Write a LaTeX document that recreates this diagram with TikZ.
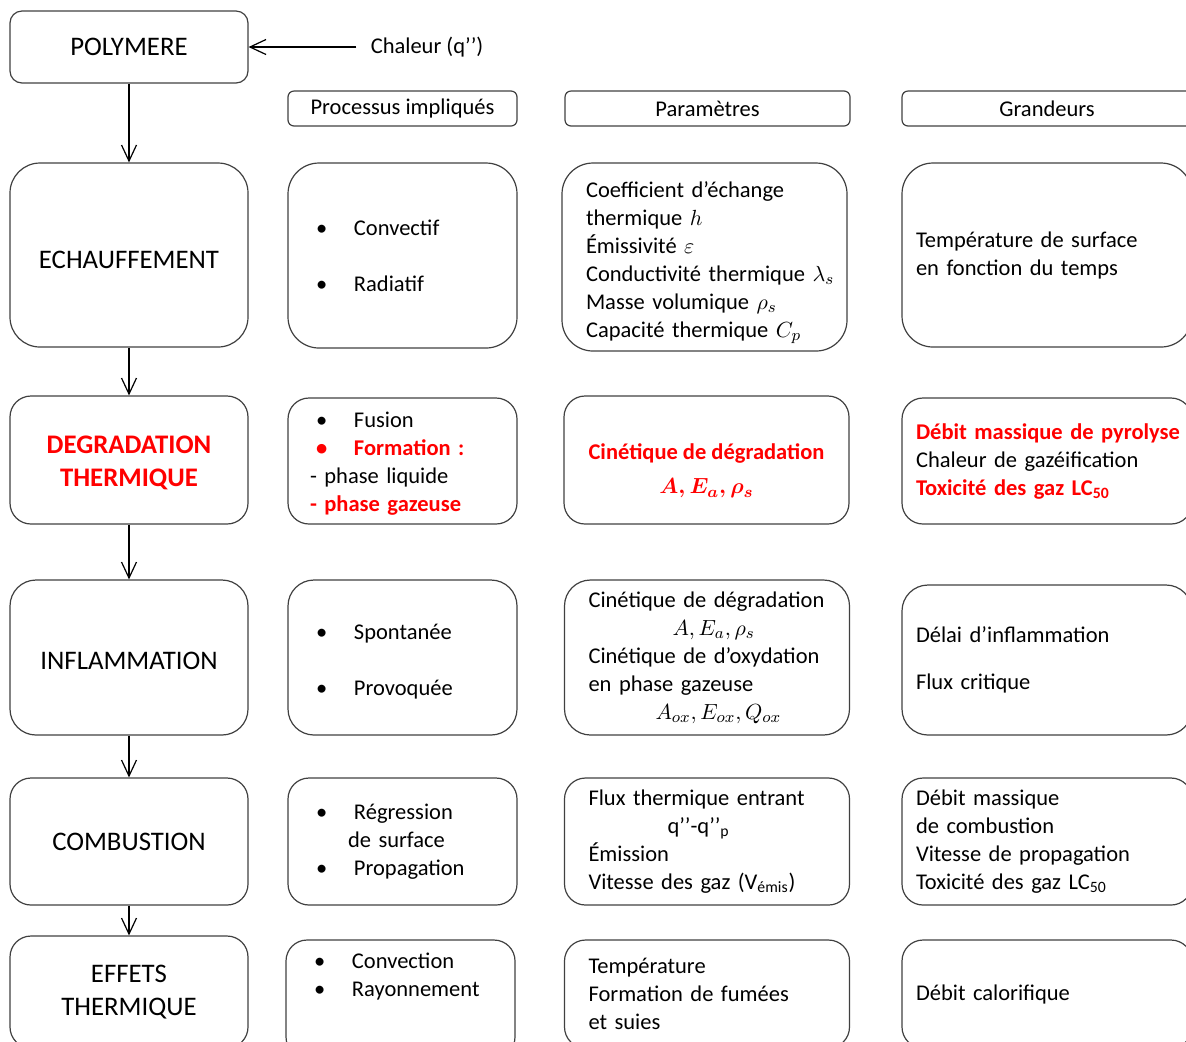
\documentclass[tikz,border=0pt]{standalone}
\usepackage{fontspec}
\setmainfont{Carlito}
\usetikzlibrary{arrows.meta}

\newcommand\puce[1]{\makebox[22pt][l]{\hspace{3pt}\textbullet}#1}
\newcommand\gros{\fontsize{13.4pt}{16.3pt}\selectfont}
\newcommand\courant{\fontsize{11.25pt}{14pt}\selectfont}
% first line made taller, so the text sits lower in its box
\newcommand\abaisse[2]{\raisebox{0pt}[\dimexpr\height+#1\relax]{#2}}

\begin{document}
\begin{tikzpicture}[x=0.5pt, y=-0.5pt, font=\courant,
    box/.style={draw=black!75, line width=0.6pt, rounded corners=#1, inner sep=0pt},
    etape/.style={box=#1, minimum width=119pt, align=center, font=\gros},
    entete/.style={box=3pt, minimum height=17.5pt},
    proc/.style={box=#1, minimum width=114.5pt, text width=92.5pt, align=left},
    parm/.style={box=#1, minimum width=142.5pt, text width=118.5pt, align=left},
    grd/.style={box=#1, minimum width=145pt, text width=131pt, align=left},
    fleche/.style={-{Straight Barb[length=8pt,width=7.5pt]}, line width=0.6pt}]

    \useasboundingbox (0,0) rectangle (1186,1041);

    % etapes
    \node[etape=6pt, minimum height=36pt] (poly) at (129,47) {POLYMERE};
    \node[etape=15pt, minimum height=92pt] (echauf) at (129,255) {\abaisse{5pt}{ECHAUFFEMENT}};
    \node[etape=10.5pt, minimum height=64pt, text=red, font=\gros\bfseries] (degrad) at (129,460) {\abaisse{3pt}{DEGRADATION}\\THERMIQUE};
    \node[etape=13pt, minimum height=77.5pt] (inflam) at (129,657.5) {\abaisse{3pt}{INFLAMMATION}};
    \node[etape=10.5pt, minimum height=63.5pt] (combu) at (129,841.5) {COMBUSTION};
    \node[etape=10.5pt, minimum height=56pt] (effets) at (129,992) {EFFETS\\THERMIQUE};

    \node[inner xsep=7pt] (chaleur) at (427,47) {Chaleur (q’’)};

    % en-tetes
    \node[entete, minimum width=114.5pt] (hproc) at (402.5,108.5) {Processus impliqués};
    \node[entete, minimum width=142.5pt] (hparm) at (707.5,108.5) {Paramètres};
    \node[entete, minimum width=145pt] (hgrd) at (1047,108.5) {Grandeurs};

    % processus
    \node[proc=15.5pt, minimum height=92.5pt] (proc1) at (402.5,255.5) {\puce{Convectif}\\[14pt]\puce{Radiatif}};
    \node[proc=10.5pt, minimum height=63pt] (proc2) at (402.5,461) {\abaisse{3pt}{\puce{Fusion}}\\
      {\color{red}\bfseries\puce{Formation :}}\\
      - phase liquide\\
      {\color{red}\bfseries - phase gazeuse}};
    \node[proc=13pt, minimum height=77.5pt] (proc3) at (402.5,657.5) {\abaisse{4pt}{\puce{Spontanée}}\\[14pt]\puce{Provoquée}};
    \node[proc=10.5pt, minimum height=63.5pt] (proc4) at (402.5,841.5) {\puce{Régression}\\
      \hspace*{19pt}de surface\\
      \puce{Propagation}};
    \node[proc=10.5pt, minimum height=59pt] (proc5) at (400.5,999) {\puce{Convection}\\\puce{Rayonnement}\\[6pt]\strut};

    % parametres
    \node[parm=15.5pt, minimum height=94pt] (parm1) at (704.5,257) {\abaisse{5.5pt}{Coefficient d’échange}\\
      thermique $h$\\
      Émissivité $\varepsilon$\\
      \mbox{Conductivité thermique $\lambda_s$}\\
      Masse volumique $\rho_s$\\
      Capacité thermique $C_p$};
    \node[box=10.5pt, minimum width=142.5pt, minimum height=64pt, align=center, text=red, font=\courant\bfseries] (parm2) at (706.5,460)
      {\abaisse{11pt}{Cinétique de dégradation}\\[3pt] {\boldmath$A, E_a, \rho_s$}};
    \node[parm=13pt, minimum height=77.5pt] (parm3) at (707,657.5) {Cinétique de dégradation\\
      \hspace*{42pt}$A, E_a, \rho_s$\\
      Cinétique de d’oxydation\\
      en phase gazeuse\\
      \hspace*{33.5pt}$A_{ox}, E_{ox}, Q_{ox}$};
    \node[parm=10.5pt, minimum height=63.5pt] (parm4) at (707,841.5) {Flux thermique entrant\\
      \hspace*{39.5pt}q’’-q’’\textsubscript{p}\\
      Émission\\
      Vitesse des gaz (V\textsubscript{émis})};
    \node[parm=10.5pt, minimum height=54pt] (parm5) at (707,994) {Température\\
      Formation de fumées\\
      et suies};

    % grandeurs
    \node[grd=15.5pt, minimum height=92pt] (grd1) at (1047,255) {Température de surface\\
      en fonction du temps};
    \node[grd=10.5pt, minimum height=63pt] (grd2) at (1047,461) {{\color{red}\bfseries\mbox{Débit massique de pyrolyse}}\\
      Chaleur de gazéification\\
      {\color{red}\bfseries Toxicité des gaz LC\textsubscript{50}}};
    \node[grd=13pt, minimum height=75pt] (grd3) at (1047,660) {Délai d’inflammation\\[9.5pt]
      Flux critique};
    \node[grd=10.5pt, minimum height=63.5pt] (grd4) at (1047,841.5) {Débit massique\\
      de combustion\\
      Vitesse de propagation\\
      Toxicité des gaz LC\textsubscript{50}};
    \node[grd=10.5pt, minimum height=54pt] (grd5) at (1047,994) {Débit calorifique};

    \draw[fleche] (chaleur) -- (poly);
    \foreach \a/\b in {poly/echauf,echauf/degrad,degrad/inflam,inflam/combu,combu/effets} {
      \draw[fleche] (\a) -- (\b);
    }

  \end{tikzpicture}
\end{document}
